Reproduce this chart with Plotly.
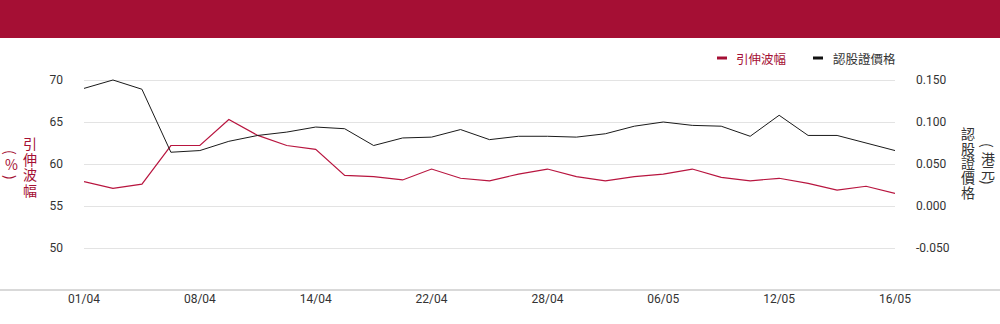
import plotly.graph_objects as go

# Trading days shown on the x axis
dates = [
    "01/04", "02/04", "03/04", "07/04", "08/04", "09/04", "10/04", "11/04",
    "14/04", "15/04", "16/04", "17/04", "22/04", "23/04", "24/04", "25/04",
    "28/04", "29/04", "30/04", "02/05", "06/05", "07/05", "08/05", "09/05",
    "12/05", "13/05", "14/05", "15/05", "16/05",
]
x_tick_labels = ["01/04", "08/04", "14/04", "22/04", "28/04", "06/05", "12/05", "16/05"]

# Implied volatility (%) - left axis
implied_vol = [
    57.9, 57.1, 57.6, 62.2, 62.2, 65.3, 63.4, 62.2, 61.75, 58.65,
    58.5, 58.1, 59.4, 58.3, 58.0, 58.8, 59.4, 58.5, 58.0, 58.5,
    58.8, 59.4, 58.4, 58.0, 58.3, 57.7, 56.9, 57.35, 56.5,
]
# Warrant price (HKD) - right axis
warrant_price = [
    0.140, 0.150, 0.139, 0.064, 0.066, 0.077, 0.084, 0.088, 0.094, 0.092,
    0.072, 0.081, 0.082, 0.091, 0.079, 0.083, 0.083, 0.082, 0.086, 0.095,
    0.100, 0.096, 0.095, 0.083, 0.108, 0.084, 0.084, 0.075, 0.066,
]

left_ticks = [50, 55, 60, 65, 70]
right_ticks = [-0.05, 0.0, 0.05, 0.10, 0.15]
right_tick_text = ["-0.050", "0.000", "0.050", "0.100", "0.150"]

W, H = 1000, 324
ML, MR, MT, MB = 84, 105, 38, 34
PW, PH = W - ML - MR, H - MT - MB

RED = "#A50F34"
LINE_RED = "#B8153F"
DARK = "#333333"
FONT = "Roboto, 'Noto Sans', sans-serif"
CJK = "'Noto Sans CJK TC', 'Noto Sans CJK SC', sans-serif"


def px(x):
    return (x - ML) / PW


def py(y):
    return (H - MB - y) / PH


fig = go.Figure()
fig.add_trace(go.Scatter(
    x=dates, y=implied_vol, name="引伸波幅", mode="lines",
    line=dict(color=LINE_RED, width=1.2), yaxis="y",
))
fig.add_trace(go.Scatter(
    x=dates, y=warrant_price, name="認股證價格", mode="lines",
    line=dict(color="#1a1a1a", width=1), yaxis="y2",
))

shapes = [
    # header band
    dict(type="rect", xref="paper", yref="paper", x0=px(0), x1=px(W),
         y0=py(38), y1=py(0), fillcolor=RED, line=dict(width=0), layer="above"),
    # bottom baseline across the full width
    dict(type="line", xref="paper", yref="paper", x0=px(0), x1=px(W),
         y0=0, y1=0, line=dict(color="#cccccc", width=1.5), layer="above"),
    # legend swatches
    dict(type="rect", xref="paper", yref="paper", x0=px(717), x1=px(727),
         y0=py(59.5), y1=py(56.5), fillcolor=RED, line=dict(width=0)),
    dict(type="rect", xref="paper", yref="paper", x0=px(813), x1=px(823),
         y0=py(59.5), y1=py(56.5), fillcolor="#111111", line=dict(width=0)),
]

annotations = [
    dict(text="引伸波幅", x=px(734), y=py(58), xref="paper", yref="paper",
         xanchor="left", yanchor="middle", showarrow=False,
         font=dict(family=CJK, size=12.5, color=RED)),
    dict(text="認股證價格", x=px(831), y=py(58), xref="paper", yref="paper",
         xanchor="left", yanchor="middle", showarrow=False,
         font=dict(family=CJK, size=12.5, color=DARK)),
]


def column(chars, x, ys, color, size=14, rotate=()):
    # vertical text: one upright character per annotation, brackets turned 90°
    for i, (c, y) in enumerate(zip(chars, ys)):
        annotations.append(dict(
            text=c, x=px(x), y=py(y), xref="paper", yref="paper",
            xanchor="center", yanchor="middle", showarrow=False,
            textangle=90 if i in rotate else 0,
            font=dict(family=CJK, size=size, color=color),
        ))


# left axis title
column("引伸波幅", 30, [143, 158.5, 174, 189.5], RED)
column("(%)", 11, [152, 164, 177], RED, rotate=(0, 2))
# right axis title
column("認股證價格", 968, [133, 147.5, 162, 177, 192], DARK)
column("(港元)", 988, [145, 157.5, 171.5, 182], DARK, rotate=(0, 3))

fig.update_layout(
    width=W, height=H,
    margin=dict(l=ML, r=MR, t=MT, b=MB, pad=0),
    paper_bgcolor="white", plot_bgcolor="white",
    showlegend=False,
    hovermode=False,
    font=dict(family=FONT, size=12, color=DARK),
    xaxis=dict(
        type="category", range=[0, len(dates) - 1],
        tickmode="array", tickvals=x_tick_labels, ticktext=x_tick_labels,
        showgrid=False, showline=False, zeroline=False, ticks="",
        tickfont=dict(family=FONT, size=12, color=DARK),
    ),
    yaxis=dict(
        range=[45, 75], tickmode="array", tickvals=left_ticks,
        showgrid=True, gridcolor="#e3e3e3", gridwidth=1,
        zeroline=False, showline=False, ticks="",
        ticklabelstandoff=20,
        tickfont=dict(family=FONT, size=12, color=DARK),
    ),
    yaxis2=dict(
        range=[-0.1, 0.2], overlaying="y", side="right",
        tickmode="array", tickvals=right_ticks, ticktext=right_tick_text,
        showgrid=False, zeroline=False, showline=False, ticks="",
        ticklabelstandoff=20,
        tickfont=dict(family=FONT, size=12, color=DARK),
    ),
    shapes=shapes,
    annotations=annotations,
)

fig.write_html("out.html")
